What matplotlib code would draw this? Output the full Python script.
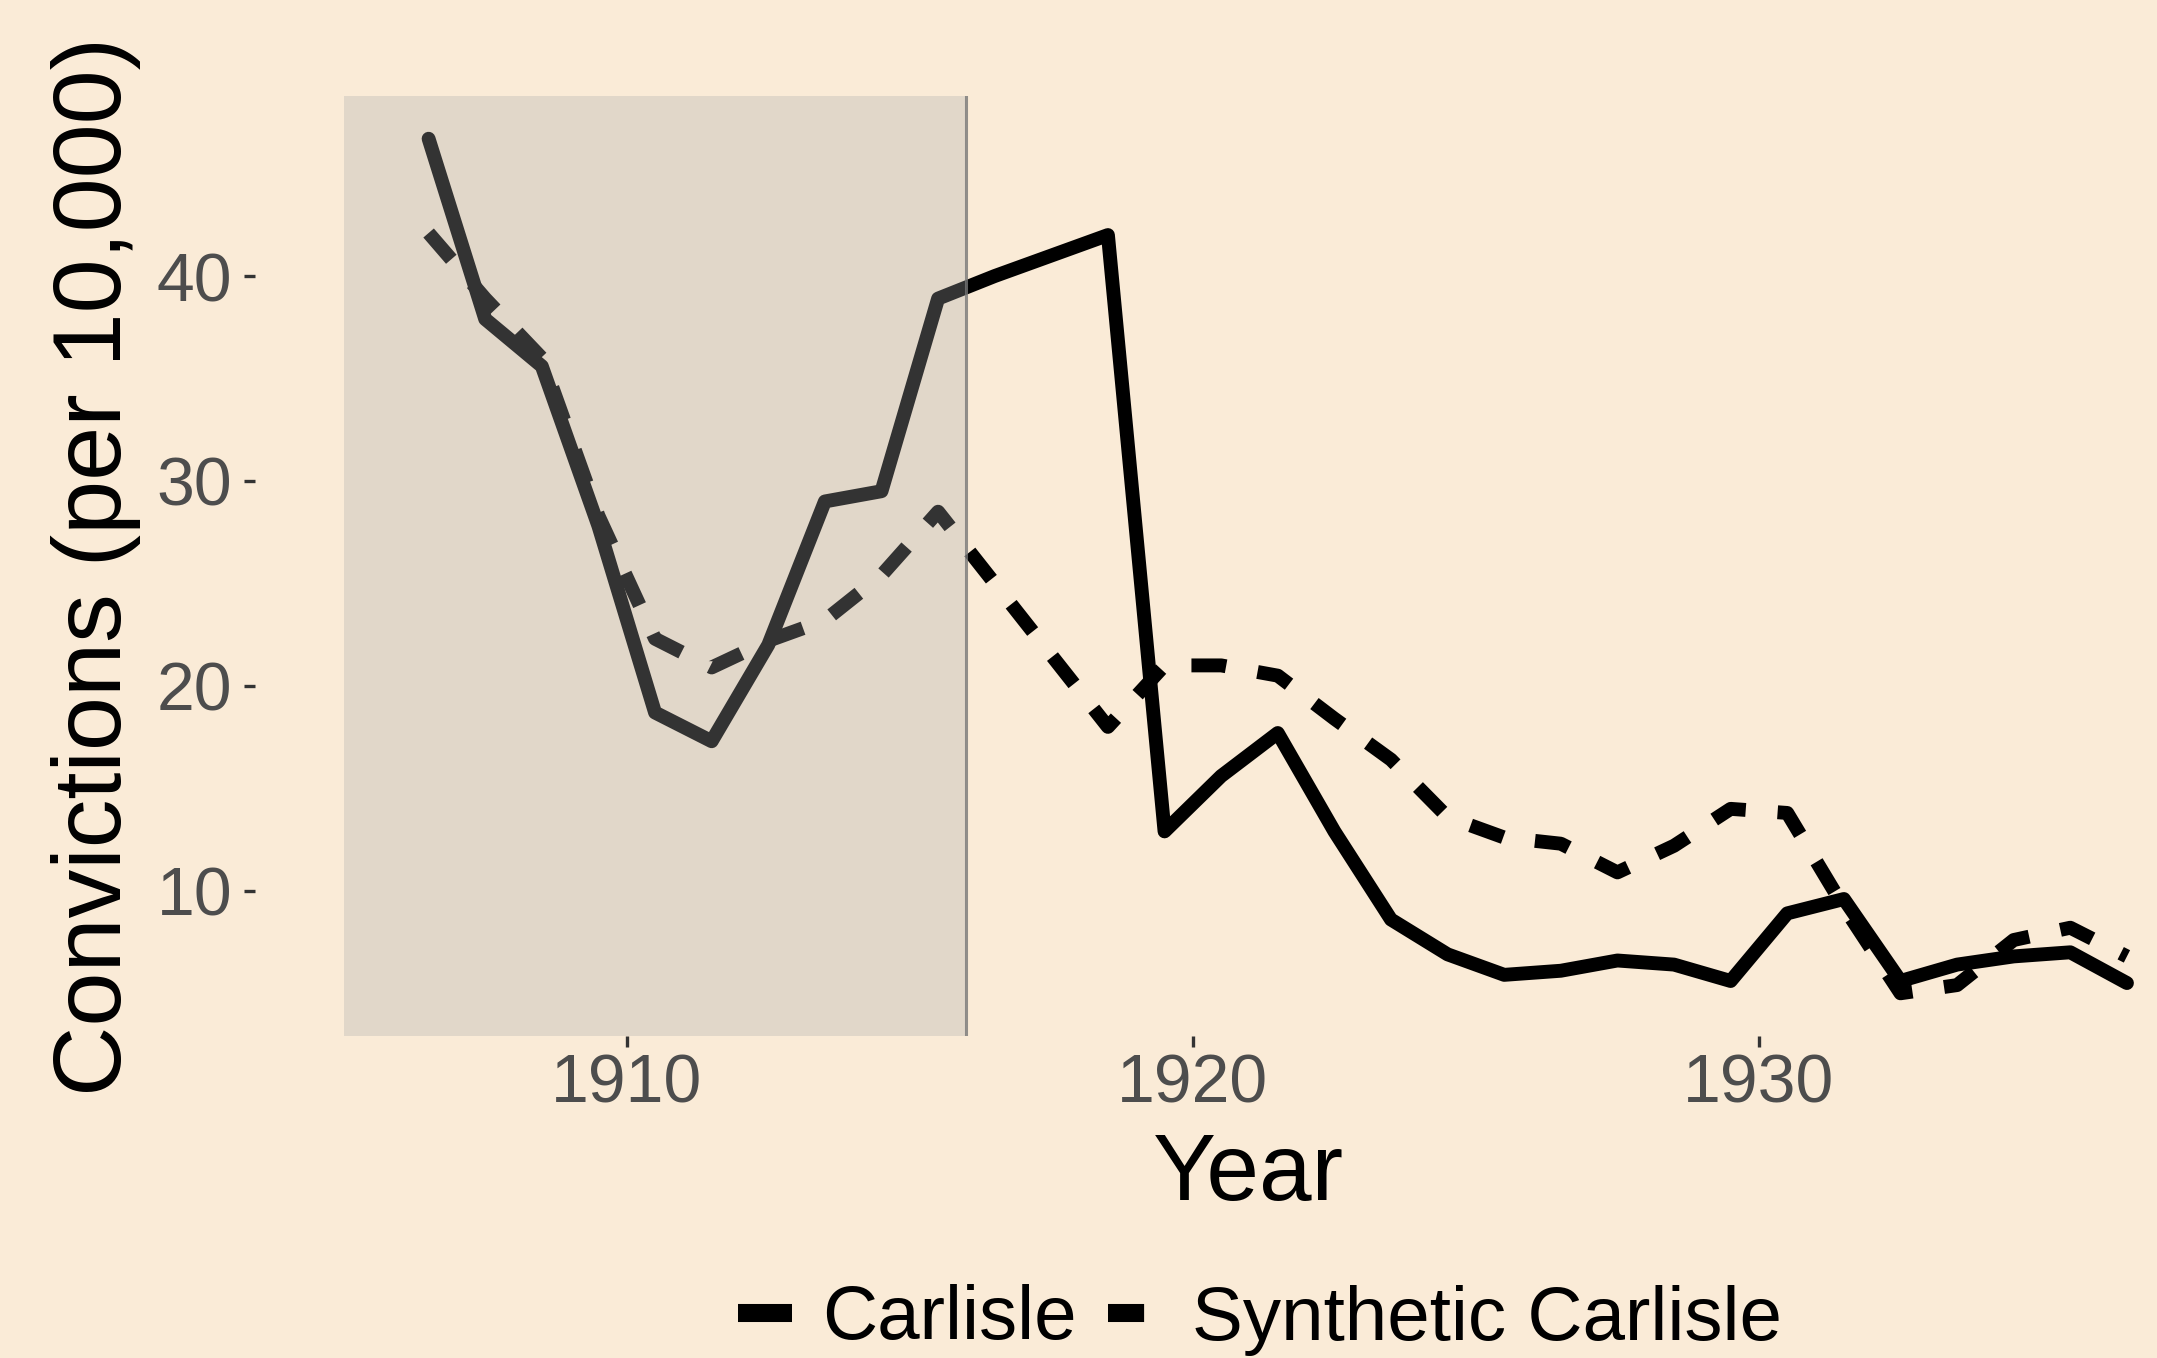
import matplotlib
matplotlib.use("Agg")
import matplotlib.pyplot as plt
from matplotlib.lines import Line2D

## data
years = [1906.5, 1907.5, 1908.5, 1909.5, 1910.5, 1911.5, 1912.5, 1913.5,
         1914.5, 1915.5, 1916.5, 1917.5, 1918.5, 1919.5, 1920.5, 1921.5,
         1922.5, 1923.5, 1924.5, 1925.5, 1926.5, 1927.5, 1928.5, 1929.5,
         1930.5, 1931.5, 1932.5, 1933.5, 1934.5, 1935.5, 1936.5]

carlisle = [46.7, 37.9, 35.6, 27.8, 18.7, 17.3, 22.0, 29.0,
            29.5, 38.9, 40.0, 41.0, 42.0, 12.9, 15.6, 17.7,
            12.9, 8.6, 6.9, 5.9, 6.1, 6.6, 6.4, 5.6,
            8.9, 9.6, 5.6, 6.4, 6.8, 7.0, 5.5]

synthetic = [42.1, 38.9, 36.0, 28.3, 22.3, 20.9, 22.2, 23.2,
             25.4, 28.5, 25.0, 21.5, 18.0, 21.0, 21.0, 20.5,
             18.4, 16.4, 13.6, 12.6, 12.3, 10.9, 12.2, 14.0,
             13.8, 9.2, 5.0, 5.4, 7.6, 8.2, 6.8]

pre_start = 1905
treatment_year = 1916
x_ticks = [1910, 1920, 1930]
y_ticks = [10, 20, 30, 40]
labels = ['Carlisle', 'Synthetic Carlisle']

bg = '#FAEBD7'
plt.rcParams['font.family'] = ['Liberation Sans', 'DejaVu Sans']

fig = plt.figure(figsize=(21.57, 13.58), dpi=100, facecolor=bg)
# panel runs past the right edge, like the cropped original
ax = fig.add_axes([0.118, 0.2371, 0.9094, 0.6922])
ax.set_facecolor(bg)

ax.plot(years, synthetic, color='black', lw=10, linestyle=(0, (2.5, 2.3)),
        dash_capstyle='butt', dash_joinstyle='round', zorder=2)
ax.plot(years, carlisle, color='black', lw=10, solid_capstyle='round',
        solid_joinstyle='round', zorder=3)

# shaded pre-treatment period drawn over the lines
ax.axvspan(pre_start, treatment_year, color='#AAAAAA', alpha=0.3, lw=0, zorder=4)
ax.axvline(treatment_year, color='#777777', lw=2.2, alpha=0.8, zorder=5)

# ggplot style 5% expansion
x_lo, x_hi = pre_start, max(years)
y_lo = min(min(carlisle), min(synthetic))
y_hi = max(max(carlisle), max(synthetic))
ax.set_xlim(x_lo - 0.05 * (x_hi - x_lo), x_hi + 0.05 * (x_hi - x_lo))
ax.set_ylim(y_lo - 0.05 * (y_hi - y_lo), y_hi + 0.05 * (y_hi - y_lo))

ax.set_xticks(x_ticks)
ax.set_yticks(y_ticks)
ax.tick_params(axis='both', length=8, width=2.4, color='#333333',
               labelcolor='#4D4D4D', labelsize=49)
ax.tick_params(axis='x', pad=4)
ax.tick_params(axis='y', pad=8)
for s in ax.spines.values():
    s.set_visible(False)

fig.text(0.579, 1 - 1200 / 1358, 'Year', fontsize=68, ha='center', va='baseline')
fig.text(0.0445, 0.583, 'Convictions (per 10,000)', fontsize=70,
         rotation=90, ha='center', va='center')

handles = [Line2D([], [], color='black', lw=13, solid_capstyle='butt'),
           Line2D([], [], color='black', lw=13, linestyle=(0, (2.0, 2.0)),
                  dash_capstyle='butt')]
fig.legend(handles, labels, loc='center', ncol=2, frameon=False,
           bbox_to_anchor=(1260 / 2157, 1 - 1320 / 1358), fontsize=55,
           handlelength=0.71, handletextpad=0.4, columnspacing=0.4,
           borderpad=0, borderaxespad=0)

fig.savefig('out.png', dpi=100, facecolor=bg)
